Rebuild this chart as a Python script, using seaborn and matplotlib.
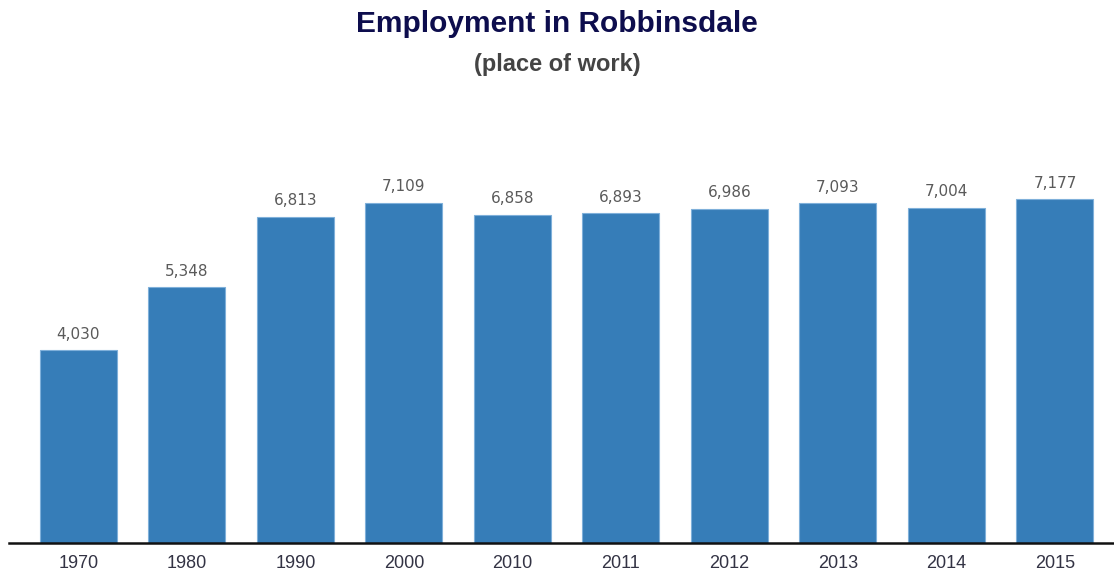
import matplotlib
matplotlib.use("Agg")
import matplotlib.pyplot as plt
import seaborn as sns
import pandas as pd

years = ["1970", "1980", "1990", "2000", "2010", "2011", "2012", "2013", "2014", "2015"]
jobs = [4030, 5348, 6813, 7109, 6858, 6893, 6986, 7093, 7004, 7177]

df = pd.DataFrame({"year": years, "jobs": jobs})

sns.set_theme(style="white")
plt.rcParams["font.family"] = ["Liberation Sans", "DejaVu Sans"]

fig = plt.figure(figsize=(11.14, 5.71), dpi=100)
ax = fig.add_axes([9 / 1114, 28 / 571, 1105 / 1114, 383 / 571])

sns.barplot(data=df, x="year", y="jobs", color="#367db8", saturation=1,
            width=0.71, edgecolor="#7fb0da", linewidth=0.8, ax=ax)

ax.set_xlim(-0.64, 9.544)
ax.set_ylim(0, 8000)

for i, v in enumerate(jobs):
    ax.annotate(f"{v:,}", (i, v), xytext=(0, 6), textcoords="offset points",
                ha="center", va="bottom", fontsize=11, color="#5a5a5a",
                family="DejaVu Sans")

for s in ["top", "right", "left"]:
    ax.spines[s].set_visible(False)
ax.spines["bottom"].set_color("#111111")
ax.spines["bottom"].set_linewidth(1.8)
ax.set_yticks([])
ax.set_xlabel("")
ax.set_ylabel("")
ax.tick_params(axis="x", length=0, pad=9, labelsize=13, labelcolor="#333344")

fig.text(0.5, 1 - 24 / 571, "Employment in Robbinsdale", ha="center", va="center",
         fontsize=21.5, fontweight="bold", color="#0d0d4d")
fig.text(0.5, 1 - 65 / 571, "(place of work)", ha="center", va="center",
         fontsize=17, fontweight="bold", color="#444444")

fig.savefig("out.png", dpi=100, facecolor="white")
